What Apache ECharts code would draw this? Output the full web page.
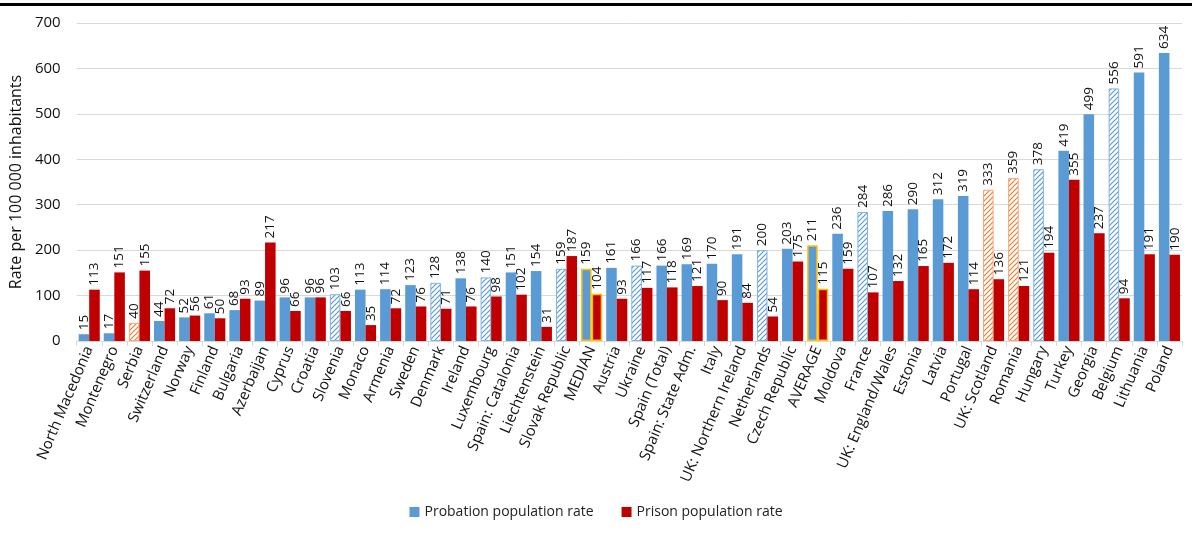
<!DOCTYPE html>
<html>
<head>
<meta charset="utf-8">
<script src="https://cdn.jsdelivr.net/npm/echarts@6/dist/echarts.min.js"></script>
<style>
  html, body { margin: 0; padding: 0; background: #fff; }
  #chart { width: 1192px; height: 551px; }
</style>
</head>
<body>
<div id="chart"></div>
<script>
// Countries / jurisdictions, sorted by probation rate
const categories = [
  'North Macedonia', 'Montenegro', 'Serbia', 'Switzerland', 'Norway', 'Finland',
  'Bulgaria', 'Azerbaijan', 'Cyprus', 'Croatia', 'Slovenia', 'Monaco', 'Armenia',
  'Sweden', 'Denmark', 'Ireland', 'Luxembourg', 'Spain: Catalonia', 'Liechtenstein',
  'Slovak Republic', 'MEDIAN', 'Austria', 'Ukraine', 'Spain (Total)', 'Spain: State Adm.',
  'Italy', 'UK: Northern Ireland', 'Netherlands', 'Czech Republic', 'AVERAGE', 'Moldova',
  'France', 'UK: England/Wales', 'Estonia', 'Latvia', 'Portugal', 'UK: Scotland',
  'Romania', 'Hungary', 'Turkey', 'Georgia', 'Belgium', 'Lithuania', 'Poland'
];

// Probation population per 100 000 inhabitants
const probationRate = [
  15, 17, 40, 44, 52, 61, 68, 89, 96, 96, 103, 113, 114, 123, 128, 138, 140, 151, 154,
  159, 159, 161, 166, 166, 169, 170, 191, 200, 203, 211, 236, 284, 286, 290, 312, 319,
  333, 359, 378, 419, 499, 556, 591, 634
];

// Prison population per 100 000 inhabitants
const prisonRate = [
  113, 151, 155, 72, 56, 50, 93, 217, 66, 96, 66, 35, 72, 76, 71, 76, 98, 102, 31,
  187, 104, 93, 117, 118, 121, 90, 84, 54, 175, 115, 159, 107, 132, 165, 172, 114,
  136, 121, 194, 355, 237, 94, 191, 190
];

// Tick labels of the value axis
const yTicks = [0, 100, 200, 300, 400, 500, 600, 700];

// Entries drawn with a hatched fill (blue / orange) and the summary rows
const hatchedBlue = ['Slovenia', 'Denmark', 'Luxembourg', 'Slovak Republic', 'Ukraine',
  'Netherlands', 'France', 'Hungary', 'Belgium'];
const hatchedOrange = ['Serbia', 'UK: Scotland', 'Romania'];
const summaryRows = ['MEDIAN', 'AVERAGE'];

const BLUE = '#5b9bd5';
const RED = '#c00000';
const ORANGE = '#ed7d31';
const GOLD = '#ffc000';
const FONT = '"Open Sans", sans-serif';

function hatch(color) {
  const c = document.createElement('canvas');
  c.width = 5; c.height = 5;
  const ctx = c.getContext('2d');
  ctx.fillStyle = '#ffffff';
  ctx.fillRect(0, 0, 5, 5);
  ctx.strokeStyle = color;
  ctx.lineWidth = 1.2;
  ctx.beginPath();
  ctx.moveTo(-1, 6); ctx.lineTo(6, -1);
  ctx.moveTo(-3, 3); ctx.lineTo(3, -3);
  ctx.moveTo(2, 8); ctx.lineTo(8, 2);
  ctx.stroke();
  return { image: c, repeat: 'repeat' };
}

const blueHatch = hatch(BLUE);
const orangeHatch = hatch(ORANGE);

const probationData = categories.map((name, i) => {
  const item = { value: probationRate[i] };
  if (hatchedBlue.includes(name)) {
    item.itemStyle = { color: blueHatch, borderColor: '#7fb2e0', borderWidth: 1 };
  } else if (hatchedOrange.includes(name)) {
    item.itemStyle = { color: orangeHatch, borderColor: '#f4a774', borderWidth: 1 };
  } else if (summaryRows.includes(name)) {
    item.itemStyle = { color: BLUE, borderColor: GOLD, borderWidth: 1.5 };
  }
  return item;
});

const prisonData = categories.map((name, i) => {
  const item = { value: prisonRate[i] };
  if (summaryRows.includes(name)) {
    item.itemStyle = { color: RED, borderColor: GOLD, borderWidth: 1.5 };
  }
  return item;
});

const valueLabel = {
  show: true,
  position: 'top',
  rotate: 90,
  align: 'left',
  verticalAlign: 'middle',
  distance: 4,
  fontFamily: FONT,
  fontSize: 13.5,
  color: '#111'
};

const chart = echarts.init(document.getElementById('chart'), null, { renderer: 'canvas' });

chart.setOption({
  backgroundColor: '#fff',
  animation: false,
  graphic: [{
    type: 'rect',
    shape: { x: 0, y: 3, width: 1192, height: 3 },
    style: { fill: '#000' }
  }],
  grid: { left: 66, right: 10, top: 23, bottom: 210, containLabel: false },
  legend: {
    bottom: 27,
    left: 'center',
    icon: 'rect',
    itemWidth: 10,
    itemHeight: 10,
    itemGap: 28,
    textStyle: { fontFamily: FONT, fontSize: 14, color: '#222' },
    data: ['Probation population rate', 'Prison population rate']
  },
  xAxis: {
    type: 'category',
    data: categories,
    axisLine: { lineStyle: { color: '#d9d9d9' } },
    axisTick: { show: true, length: 5, lineStyle: { color: '#d9d9d9' } },
    axisLabel: {
      interval: 0,
      rotate: 67,
      margin: 6,
      fontFamily: FONT,
      fontSize: 15,
      color: '#111'
    }
  },
  yAxis: {
    type: 'value',
    min: yTicks[0],
    max: yTicks[yTicks.length - 1],
    interval: yTicks[1] - yTicks[0],
    name: 'Rate per 100 000 inhabitants',
    nameLocation: 'middle',
    nameGap: 47,
    nameTextStyle: { fontFamily: FONT, fontSize: 16, color: '#111' },
    axisLine: { show: false },
    axisTick: { show: false },
    axisLabel: { margin: 16, fontFamily: FONT, fontSize: 15, color: '#111' },
    splitLine: { lineStyle: { color: '#d9d9d9' } }
  },
  series: [
    {
      name: 'Probation population rate',
      type: 'bar',
      data: probationData,
      itemStyle: { color: BLUE },
      barGap: '0%',
      barCategoryGap: '16%',
      label: valueLabel
    },
    {
      name: 'Prison population rate',
      type: 'bar',
      data: prisonData,
      itemStyle: { color: RED },
      label: valueLabel
    }
  ]
});
</script>
</body>
</html>
